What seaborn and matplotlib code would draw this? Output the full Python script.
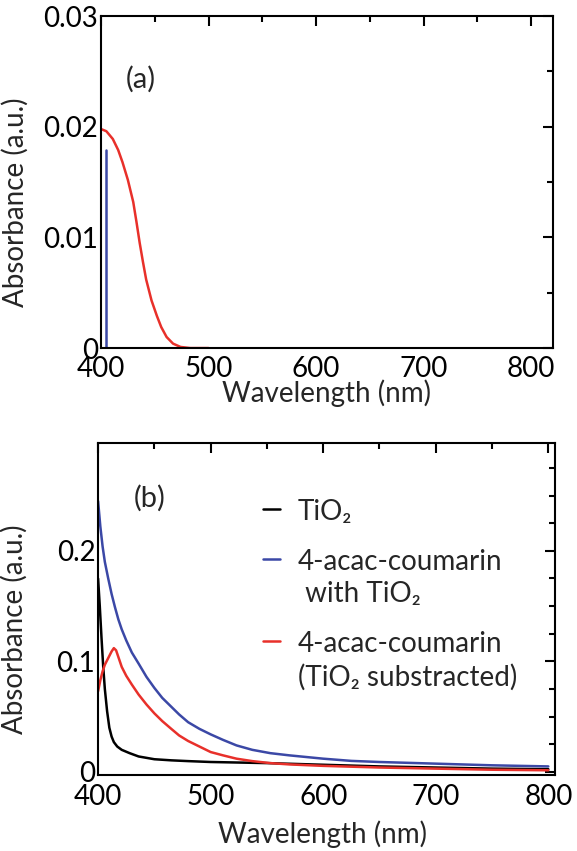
import pandas as pd
import seaborn as sns
import matplotlib.pyplot as plt
from matplotlib.ticker import MultipleLocator

# panel (a): 4-acac-coumarin, computed spectrum
wl_a = [400, 405, 411, 416, 420, 425, 430, 433, 436, 439, 442, 447, 452, 456, 461, 467, 474, 483, 500]
abs_a = [0.0198, 0.0196, 0.0189, 0.0179, 0.0168, 0.0152, 0.0132, 0.0114, 0.0095, 0.0078, 0.0062,
         0.0043, 0.0029, 0.0019, 0.0010, 0.0004, 0.0001, 0, 0]
wl_a_stick = [405, 405]
abs_a_stick = [0, 0.0179]

# panel (b): measured spectra
wl_tio2 = [400, 401.5, 403, 404.5, 406, 408, 410, 412, 414, 417, 421, 428, 436, 450, 465, 480,
           500, 550, 600, 650, 700, 750, 800]
abs_tio2 = [0.175, 0.150, 0.122, 0.096, 0.075, 0.055, 0.040, 0.032, 0.027, 0.023, 0.020, 0.017,
            0.014, 0.0115, 0.0105, 0.0098, 0.009, 0.008, 0.0065, 0.005, 0.004, 0.003, 0.0025]
wl_coum = [400, 402, 404, 406, 409, 412, 415, 418, 421, 425, 430, 436, 443, 450, 457, 465, 472,
           480, 490, 500, 511, 523, 537, 553, 570, 600, 625, 650, 700, 750, 800]
abs_coum = [0.245, 0.222, 0.204, 0.190, 0.175, 0.161, 0.149, 0.138, 0.129, 0.119, 0.108, 0.098,
            0.086, 0.076, 0.067, 0.059, 0.052, 0.045, 0.039, 0.034, 0.029, 0.024, 0.020, 0.017,
            0.015, 0.012, 0.010, 0.009, 0.0075, 0.006, 0.005]
wl_sub = [400, 402, 404, 406, 408, 410, 412, 414, 416, 418, 421, 425, 430, 436, 443, 450, 457,
          465, 472, 480, 490, 500, 511, 523, 537, 553, 570, 600, 650, 700, 750, 800]
abs_sub = [0.073, 0.083, 0.091, 0.097, 0.101, 0.105, 0.109, 0.112, 0.110, 0.104, 0.095, 0.087,
           0.079, 0.070, 0.061, 0.053, 0.046, 0.039, 0.033, 0.028, 0.023, 0.018, 0.015, 0.012,
           0.0098, 0.008, 0.0068, 0.0055, 0.004, 0.003, 0.002, 0.0015]

labels_b = ["TiO\u2082", "4-acac-coumarin\n with TiO\u2082", "4-acac-coumarin\n(TiO\u2082 substracted)"]

sns.set_theme(style="white")
plt.rcParams['font.family'] = ['Lato', 'DejaVu Sans']
plt.rcParams['axes.linewidth'] = 1.5

RED = "#e8302a"
BLUE = "#3b48a6"
FS = 20
LW = 1.8

fig = plt.figure(figsize=(5.77, 8.51), dpi=100)
ax_a = fig.add_axes([0.175, 0.591, 0.783, 0.390])
ax_b = fig.add_axes([0.170, 0.089, 0.792, 0.391])

sns.lineplot(x=wl_a, y=abs_a, ax=ax_a, color=RED, lw=LW, estimator=None, sort=False)
sns.lineplot(x=wl_a_stick, y=abs_a_stick, ax=ax_a, color=BLUE, lw=LW, estimator=None, sort=False)
ax_a.set_xlim(400, 820)
ax_a.set_ylim(0, 0.03)
ax_a.set_yticks([0, 0.01, 0.02, 0.03])
ax_a.set_yticklabels(["0", "0.01", "0.02", "0.03"])
ax_a.yaxis.set_minor_locator(MultipleLocator(0.005))
ax_a.text(0.055, 0.81, "(a)", transform=ax_a.transAxes, fontsize=FS + 1, va="center", ha="left")

df_b = pd.DataFrame({
    "wl": wl_tio2 + wl_coum + wl_sub,
    "A": abs_tio2 + abs_coum + abs_sub,
    "s": [labels_b[0]] * len(wl_tio2) + [labels_b[1]] * len(wl_coum) + [labels_b[2]] * len(wl_sub),
})
sns.lineplot(data=df_b, x="wl", y="A", hue="s", palette=["black", BLUE, RED],
             ax=ax_b, lw=LW, estimator=None, sort=False)
ax_b.set_xlim(400, 806)
ax_b.set_ylim(-0.003, 0.298)
ax_b.set_yticks([0, 0.1, 0.2])
ax_b.set_yticklabels(["0", "0.1", "0.2"])
ax_b.yaxis.set_minor_locator(MultipleLocator(0.025))
ax_b.text(0.078, 0.832, "(b)", transform=ax_b.transAxes, fontsize=FS + 1, va="center", ha="left")

leg = ax_b.legend(loc="upper left", bbox_to_anchor=(0.361, 0.829), frameon=False, fontsize=FS,
                  handlelength=0.6, handletextpad=0.65, labelspacing=0.85, borderpad=0, borderaxespad=0)
for line in leg.get_lines():
    line.set_linewidth(LW)
for t in leg.get_texts():
    t.set_linespacing(1.3)
for col in leg._legend_handle_box.get_children():
    for hp in col.get_children():
        hp.align = "top"

for ax in (ax_a, ax_b):
    ax.set_xticks([400, 500, 600, 700, 800])
    ax.xaxis.set_minor_locator(MultipleLocator(50))
    ax.tick_params(which="both", direction="in", top=True, right=True, width=1.5,
                   labelsize=FS, colors="black")
    ax.tick_params(which="major", length=7)
    ax.tick_params(which="minor", length=4.5)
    ax.tick_params(axis="y", pad=2)
    ax.tick_params(axis="x", pad=6)
    for sp in ax.spines.values():
        sp.set_color("black")
    ax.set_xlabel("Wavelength (nm)", fontsize=FS)
    ax.set_ylabel("Absorbance (a.u.)", fontsize=FS)

ax_a.xaxis.set_label_coords(0.5, -0.095)
ax_a.yaxis.set_label_coords(-0.16, 0.44)
ax_b.xaxis.set_label_coords(0.49, -0.135)
ax_b.yaxis.set_label_coords(-0.153, 0.44)

fig.savefig("out.png", dpi=100, facecolor="white")
